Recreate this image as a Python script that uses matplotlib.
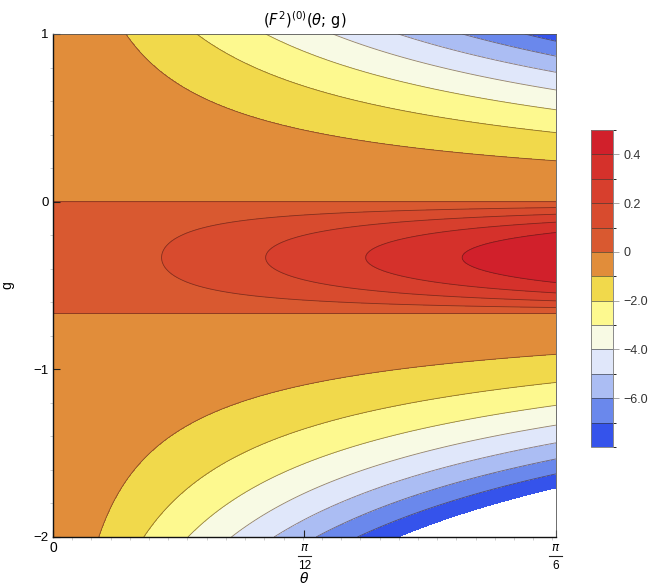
import numpy as np
import matplotlib
matplotlib.use("Agg")
import matplotlib.pyplot as plt
from matplotlib.colors import ListedColormap, BoundaryNorm
from matplotlib.transforms import blended_transform_factory, ScaledTranslation

# ========== DATA ==========
levels = [-8, -7, -6, -5, -4, -3, -2, -1, 0, 0.1, 0.2, 0.3, 0.4, 0.5]
band_colors = ["#3553EB", "#6A88EC", "#ABBDF3", "#E0E7FA", "#F8FAE4", "#FDF98F",
               "#F1D94B", "#E18D3A", "#D95930", "#D84B2E", "#D73F2D", "#D5312B", "#D1202B"]
cbar_ticks = [0.4, 0.2, 0, -2, -4, -6]
cbar_labels = ["0.4", "0.2", "0", "\u22122.0", "\u22124.0", "\u22126.0"]

g_zeros = [0.0, -2 / 3]          # g where the function changes sign
profile_coef = [4.076, 0.429]    # growth along theta (linear, quadratic in theta/(pi/6))

theta_max = np.pi / 6
g_min, g_max = -2, 1
x_ticks = [0, np.pi / 12, np.pi / 6]
x_denoms = ["", "12", "6"]       # pi/12, pi/6 drawn as stacked fractions
y_ticks = [1, 0, -1, -2]
y_ticklabels = ["1", "0", "\u22121", "\u22122"]

# ========== FIELD ==========
th = np.linspace(0, theta_max, 400)
gg = np.linspace(g_min, g_max, 400)
TH, GG = np.meshgrid(th, gg)
t = TH / theta_max
F = -(GG - g_zeros[0]) * (GG - g_zeros[1]) * (profile_coef[0] * t + profile_coef[1] * t ** 2)

# ========== PLOT ==========
plt.rcParams["font.family"] = ["Liberation Sans", "DejaVu Sans"]
plt.rcParams["mathtext.fontset"] = "dejavusans"

fig = plt.figure(figsize=(6.5, 5.87), dpi=100)
ax = fig.add_axes([0.0815, 0.0852, 0.7738, 0.8569])

cmap = ListedColormap(band_colors)
norm = BoundaryNorm(levels, cmap.N)
cf = ax.contourf(TH, GG, F, levels=levels, cmap=cmap, norm=norm)
ax.contour(TH, GG, F, levels=levels[1:-1], colors="#3a1a10", linewidths=0.6,
           alpha=0.55, linestyles="solid")

ax.set_xlim(0, theta_max)
ax.set_ylim(g_min, g_max)
ax.set_xticks(x_ticks)
ax.set_xticklabels(["0", "", ""], fontsize=10)
ax.set_yticks(y_ticks)
ax.set_yticklabels(y_ticklabels, fontsize=9.5)
ax.set_xticks(np.arange(0.02, theta_max, 0.02), minor=True)
ax.set_yticks(np.arange(-1.8, 1.0, 0.2), minor=True)
ax.tick_params(which="major", direction="in", length=5, width=0.8, pad=3, color="#222222")
ax.tick_params(which="minor", direction="out", length=2, width=0.5, color="#bbbbbb")
for side in ["left", "bottom"]:
    ax.spines[side].set_color("#111111")
    ax.spines[side].set_linewidth(1.0)
for side in ["top", "right"]:
    ax.spines[side].set_color("#555555")
    ax.spines[side].set_linewidth(0.6)

# stacked fraction tick labels
base = blended_transform_factory(ax.transData, ax.transAxes)
px = 1 / fig.dpi
for xv, den in zip(x_ticks, x_denoms):
    if not den:
        continue
    ax.text(xv, 0, r"$\pi$", transform=base + ScaledTranslation(0, -11 * px, fig.dpi_scale_trans),
            ha="center", va="center", fontsize=8.5, clip_on=False)
    ax.text(xv, 0, den, transform=base + ScaledTranslation(0, -29 * px, fig.dpi_scale_trans),
            ha="center", va="center", fontsize=8.5, clip_on=False)
    half = 6.5 / 503 * theta_max
    ax.plot([xv - half, xv + half], [0, 0], color="#222222", lw=0.8, clip_on=False,
            transform=base + ScaledTranslation(0, -19 * px, fig.dpi_scale_trans))

ax.set_title(r"$(F^2)^{(0)}(\theta;\,\mathrm{g})$", fontsize=10.5, pad=6)
ax.text(theta_max / 2, 0, r"$\theta$", transform=base + ScaledTranslation(0, -42 * px, fig.dpi_scale_trans),
        ha="center", va="center", fontsize=10, clip_on=False)
ax.set_ylabel("g", fontsize=10, labelpad=14)

cax = fig.add_axes([0.909, 0.2385, 0.0338, 0.54])
cb = fig.colorbar(cf, cax=cax, ticks=cbar_ticks, spacing="uniform")
cb.set_ticklabels(cbar_labels)
cb.ax.tick_params(labelsize=9, length=4, width=0.6, color="#999999", labelcolor="#333333")
cb.outline.set_edgecolor("#777777")
cb.outline.set_linewidth(0.6)
cb.ax.hlines(levels[1:-1], 0, 1, colors="#333333", linewidth=0.6, alpha=0.7)

plt.savefig("out.png", dpi=100)
